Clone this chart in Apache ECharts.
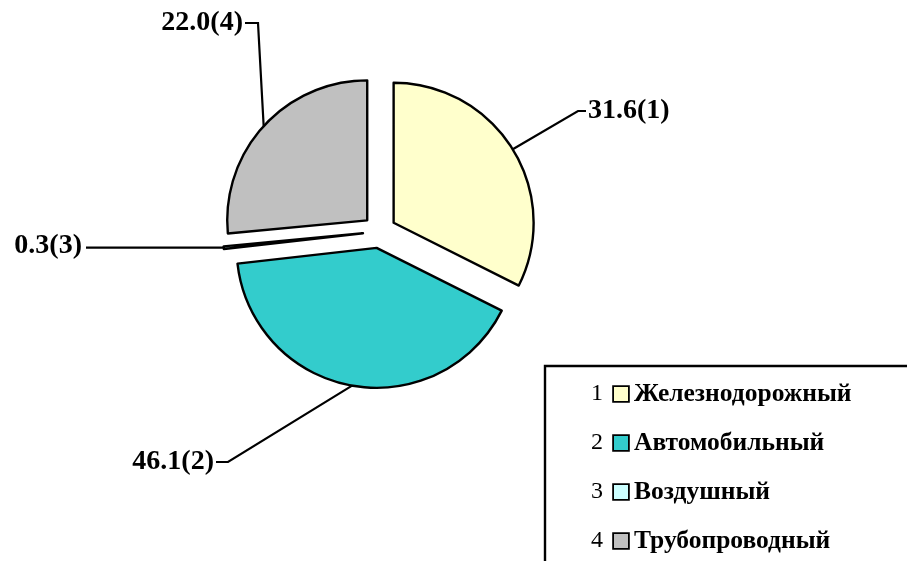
<!DOCTYPE html>
<html>
<head>
<meta charset="utf-8">
<script src="https://cdn.jsdelivr.net/npm/echarts@6/dist/echarts.min.js"></script>
<style>
  html, body { margin: 0; padding: 0; background: #ffffff; }
  #chart { width: 907px; height: 561px; }
</style>
</head>
<body>
<div id="chart"></div>
<script>
// Transport modes (legend order = slice order)
const categories = ['Железнодорожный', 'Автомобильный', 'Воздушный', 'Трубопроводный'];
// Values as printed in the data labels (%)
const printedValues = [31.6, 46.1, 0.3, 22.0];
// Angular share of each slice as drawn in the picture (%)
const sliceShares = [32.4, 40.8, 0.3, 26.5];
const sliceColors = ['#FFFFCC', '#33CCCC', '#CCFFFF', '#C0C0C0'];

// Layout constants
const pieCenter = [379.5, 231.5];
const pieRadius = 140;
const explodeDist = 16.6;
const labelSpots = [
  { x: 588, y: 111, align: 'left',  elbow: [578, 111], tail: [586, 111] },
  { x: 214, y: 462, align: 'right', elbow: [228, 462], tail: [216, 462] },
  { x: 82,  y: 246, align: 'right', elbow: null,       tail: [86, null] },
  { x: 243, y: 23,  align: 'right', elbow: [258, 23],  tail: [245, 23] }
];

const serif = '"Liberation Serif", "Times New Roman", "DejaVu Serif", serif';

const chart = echarts.init(document.getElementById('chart'), null, { renderer: 'canvas' });

const rich = {
  n: { fontFamily: serif, fontSize: 24, fontWeight: 'normal', color: '#000', width: 23, align: 'left' },
  t: { fontFamily: serif, fontSize: 25.5, fontWeight: 'bold', color: '#000', padding: [0, 0, 0, 6] }
};
sliceColors.forEach((c, i) => {
  rich['b' + i] = { width: 14, height: 14, backgroundColor: c, borderColor: '#000', borderWidth: 1.8 };
});

// One pie series per exploded slice: same data, only slice k visible,
// centre pushed out along that slice's bisector.
const total = sliceShares.reduce((a, b) => a + b, 0);
let cum = 0;
const series = sliceShares.map((share, k) => {
  const midDeg = 360 * (cum + share / 2) / total;
  cum += share;
  const rad = midDeg * Math.PI / 180;
  const center = [pieCenter[0] + explodeDist * Math.sin(rad), pieCenter[1] - explodeDist * Math.cos(rad)];
  const data = categories.map((name, i) => {
    if (i === k) {
      return {
        name: name,
        value: sliceShares[i],
        itemStyle: { color: sliceColors[i], borderColor: '#000', borderWidth: 2.4 }
      };
    }
    return {
      name: name,
      value: sliceShares[i],
      itemStyle: { color: 'rgba(0,0,0,0)', borderWidth: 0 },
      label: { show: false },
      labelLine: { show: false }
    };
  });
  return {
    type: 'pie',
    name: 'slice' + k,
    center: center,
    radius: pieRadius,
    startAngle: 90,
    clockwise: true,
    avoidLabelOverlap: false,
    silent: true,
    emphasis: { disabled: true },
    data: data,
    label: {
      show: true,
      position: 'outside',
      formatter: function (p) {
        return printedValues[p.dataIndex].toFixed(1) + '(' + (p.dataIndex + 1) + ')';
      },
      fontFamily: serif,
      fontSize: 28,
      fontWeight: 'bold',
      color: '#000'
    },
    labelLine: {
      show: true,
      length: 20,
      length2: 10,
      smooth: false,
      lineStyle: { color: '#000', width: 2.2 }
    },
    labelLayout: function (params) {
      const s = labelSpots[params.dataIndex];
      const p0 = params.labelLinePoints ? params.labelLinePoints[0] : [s.x, s.y];
      let pts;
      if (s.elbow) {
        pts = [p0, s.elbow, s.tail];
      } else {
        pts = [p0, [s.tail[0], p0[1]]];
      }
      return {
        x: s.x,
        y: s.y,
        align: s.align,
        verticalAlign: 'middle',
        labelLinePoints: pts
      };
    }
  };
});

chart.setOption({
  animation: false,
  backgroundColor: '#ffffff',
  graphic: [{
    type: 'rect',
    z: 0,
    shape: { x: 545, y: 366, width: 420, height: 260 },
    style: { fill: '#ffffff', stroke: '#000', lineWidth: 2.4 }
  }],
  legend: {
    orient: 'vertical',
    left: 585,
    top: 379,
    padding: 0,
    itemGap: 19,
    itemWidth: 0,
    itemHeight: 0,
    selectedMode: false,
    icon: 'rect',
    data: categories,
    formatter: function (name) {
      const i = categories.indexOf(name);
      return '{n|' + (i + 1) + '}{b' + i + '|}{t|' + name + '}';
    },
    textStyle: { lineHeight: 30, rich: rich }
  },
  series: series
});
</script>
</body>
</html>
